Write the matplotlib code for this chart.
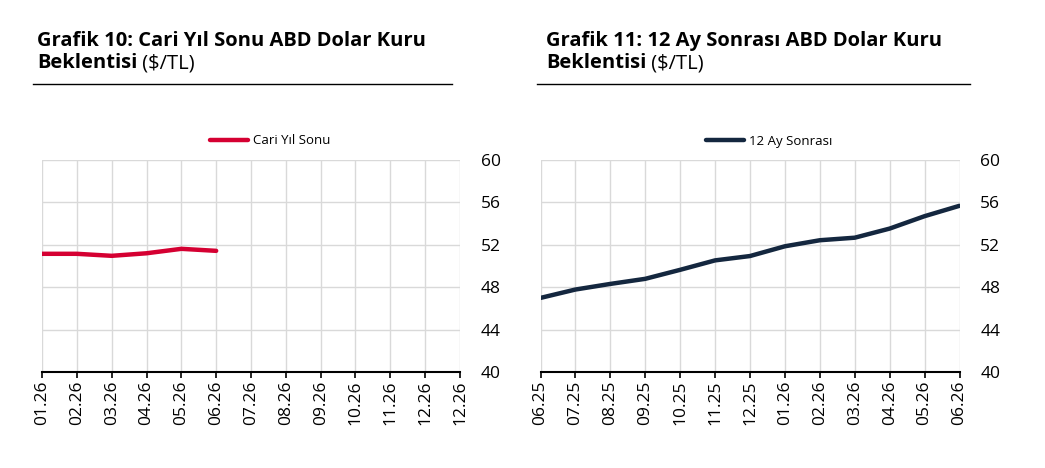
import matplotlib
import matplotlib.pyplot as plt

matplotlib.use("Agg")

plt.rcParams["font.family"] = ["Open Sans", "DejaVu Sans"]

# Grafik 10: current year-end USD/TL expectation
left_labels = ["01.26", "02.26", "03.26", "04.26", "05.26", "06.26", "07.26",
               "08.26", "09.26", "10.26", "11.26", "12.26", "12.26"]
left_values = [51.15, 51.15, 50.96, 51.2, 51.62, 51.43]

# Grafik 11: 12-months-ahead USD/TL expectation
right_labels = ["06.25", "07.25", "08.25", "09.25", "10.25", "11.25", "12.25",
                "01.26", "02.26", "03.26", "04.26", "05.26", "06.26"]
right_values = [46.99, 47.78, 48.31, 48.79, 49.64, 50.53, 50.94,
                51.86, 52.43, 52.67, 53.53, 54.70, 55.68]

y_ticks = [40, 44, 48, 52, 56, 60]

RED = "#D50032"
NAVY = "#14273F"
GRID = "#D9D9D9"

W, H = 1045, 468
fig = plt.figure(figsize=(W / 100, H / 100), dpi=100)


def setup_axes(rect, labels, values, color, legend_label, legend_x):
    ax = fig.add_axes(rect)
    ax.plot(range(len(values)), values, color=color, linewidth=3.2,
            solid_capstyle="round", label=legend_label)
    ax.set_xlim(0, len(labels) - 1)
    ax.set_ylim(40, 60)
    ax.set_xticks(range(len(labels)))
    ax.set_xticklabels(labels, rotation=90, fontsize=12.5)
    ax.set_yticks(y_ticks)
    ax.yaxis.tick_right()
    ax.tick_params(axis="y", length=0, pad=15, labelsize=12.5)
    ax.tick_params(axis="x", length=4, width=1.2, pad=2, color="black")
    ax.grid(True, color=GRID, linewidth=1.0)
    ax.set_axisbelow(True)
    for side in ["top", "left", "right"]:
        ax.spines[side].set_visible(False)
    ax.spines["bottom"].set_color("black")
    ax.spines["bottom"].set_linewidth(1.5)
    ax.legend(loc="center", bbox_to_anchor=(legend_x / W, 1 - 141 / H),
              bbox_transform=fig.transFigure, frameon=False, fontsize=9.5,
              handlelength=2.9, handletextpad=0.4)
    return ax


bottom = 1 - 372 / H
height = 212 / H
setup_axes([42 / W, bottom, 418 / W, height], left_labels, left_values,
           RED, "Cari Yıl Sonu", 270)
setup_axes([540.5 / W, bottom, 419 / W, height], right_labels, right_values,
           NAVY, "12 Ay Sonrası", 769)


def title(x, line1, line2, rule_x0, rule_x1):
    fig.text(x / W, 1 - 46 / H, line1, fontsize=14.5, fontweight="bold",
             va="baseline", ha="left")
    t = fig.text(x / W, 1 - 68 / H, line2, fontsize=14.5, fontweight="bold",
                 va="baseline", ha="left")
    # regular-weight unit right after the bold word
    fig.add_artist(plt.Annotation(" ($/TL)", xy=(1, 0), xycoords=t,
                                  fontsize=14.5, va="bottom", ha="left"))
    fig.add_artist(plt.Line2D([rule_x0 / W, rule_x1 / W],
                              [1 - 83.5 / H, 1 - 83.5 / H],
                              color="black", linewidth=1.0))


title(37, "Grafik 10: Cari Yıl Sonu ABD Dolar Kuru", "Beklentisi", 33, 452)
title(546, "Grafik 11: 12 Ay Sonrası ABD Dolar Kuru", "Beklentisi", 537, 970)

fig.savefig("out.png", dpi=100)
